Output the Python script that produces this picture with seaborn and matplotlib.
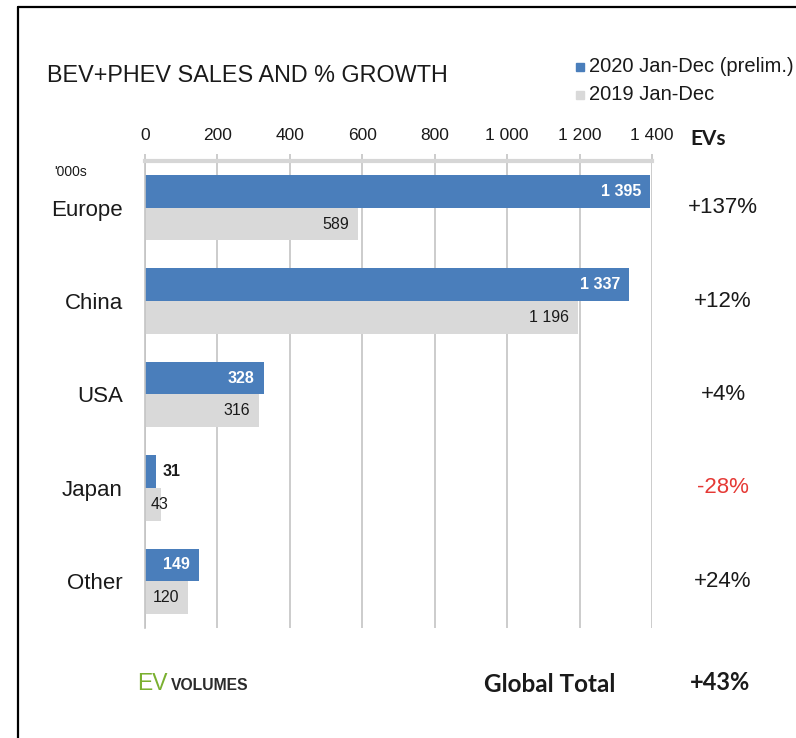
import numpy as np
import pandas as pd
import matplotlib
matplotlib.use("Agg")
import matplotlib.pyplot as plt
from matplotlib.lines import Line2D
from matplotlib.patches import Rectangle
from matplotlib.transforms import blended_transform_factory
import seaborn as sns

# ---- data ('000s of EVs) ----
regions = ["Europe", "China", "USA", "Japan", "Other"]
sales_2020 = [1395, 1337, 328, 31, 149]
sales_2019 = [589, 1196, 316, 43, 120]
growth = ["+137%", "+12%", "+4%", "-28%", "+24%"]
series_names = ["2020 Jan-Dec (prelim.)", "2019 Jan-Dec"]
x_ticks = [0, 200, 400, 600, 800, 1000, 1200, 1400]
global_growth = "+43%"

BLUE = "#4A7EBB"
GREY = "#D9D9D9"
GRID = "#C4C4C4"
TXT = "#1a1a1a"

df = pd.DataFrame({
    "region": regions * 2,
    "series": [series_names[0]] * len(regions) + [series_names[1]] * len(regions),
    "sales": sales_2020 + sales_2019,
})

sns.set_style("white")
plt.rcParams["font.family"] = ["Liberation Sans", "DejaVu Sans"]
HUMAN = ["Lato", "DejaVu Sans"]

W, H = 796, 738
fig = plt.figure(figsize=(W / 100, H / 100), dpi=100)


def fx(px):
    return px / W


def fy(py):
    return 1 - py / H


ax = fig.add_axes([fx(145), fy(628), fx(652) - fx(145), fy(161) - fy(628)])
sns.barplot(data=df, y="region", x="sales", hue="series",
            order=regions, hue_order=series_names,
            palette=[BLUE, GREY], orient="h", width=0.7, gap=0,
            saturation=1, edgecolor="none", legend=False, ax=ax)

ax.set_xlim(0, 1400)
ax.set_ylim(len(regions) - 0.5, -0.5)
ax.set_axisbelow(True)
ax.grid(axis="x", color=GRID, lw=1.2)
ax.grid(axis="y", visible=False)
ax.set_xlabel("")
ax.set_ylabel("")

# value axis on top
ax.xaxis.tick_top()
ax.set_xticks(x_ticks)
ax.set_xticklabels([f"{v:,}".replace(",", " ") for v in x_ticks])
ax.tick_params(axis="x", which="major", length=5, color=GRID, width=1.2,
               labelsize=12.5, labelcolor=TXT, pad=8)

# category axis
ax.set_yticks(range(len(regions)))
ax.set_yticklabels(regions)
ax.tick_params(axis="y", which="major", length=0, labelsize=16,
               labelcolor=TXT, pad=16)
ax.set_yticks(np.arange(-0.5, len(regions), 1.0), minor=True)
ax.tick_params(axis="y", which="minor", length=5, color=GRID, width=1.2)

for side in ("right", "bottom"):
    ax.spines[side].set_visible(False)
ax.spines["top"].set_color("#D6D6D6")
ax.spines["top"].set_linewidth(3)
ax.spines["left"].set_color(GRID)
ax.spines["left"].set_linewidth(1.2)


def fmt(v):
    return f"{v:,}".replace(",", " ")


# value labels on the bars
pad = 9
for bars, vals, is_new in ((ax.containers[0], sales_2020, True),
                           (ax.containers[1], sales_2019, False)):
    for bar, v in zip(bars, vals):
        y = bar.get_y() + bar.get_height() / 2
        if is_new:
            if v < 100:
                ax.annotate(fmt(v), (v, y), xytext=(6, 0), textcoords="offset pixels",
                            ha="left", va="center", fontsize=11.5, weight="bold", color=TXT)
            else:
                ax.annotate(fmt(v), (v, y), xytext=(-pad, 0), textcoords="offset pixels",
                            ha="right", va="center", fontsize=11.5, weight="bold", color="white")
        else:
            if v < 100:
                ax.annotate(fmt(v), (0, y), xytext=(6, 0), textcoords="offset pixels",
                            ha="left", va="center", fontsize=11.5, color=TXT)
            else:
                ax.annotate(fmt(v), (v, y), xytext=(-pad, 0), textcoords="offset pixels",
                            ha="right", va="center", fontsize=11.5, color=TXT)

# growth column on the right
tr = blended_transform_factory(fig.transFigure, ax.transData)
for i, g in enumerate(growth):
    ax.text(fx(723), i, g, transform=tr, ha="center", va="center", fontsize=16,
            color="#E53935" if g.startswith("-") else TXT, clip_on=False)

# title, units and legend
fig.text(fx(47), fy(76), "BEV+PHEV SALES AND % GROWTH", ha="left", va="center",
         fontsize=16.8, color=TXT)
fig.text(fx(71), fy(172), "'000s", ha="center", va="center", fontsize=10, color=TXT)
fig.text(fx(690), fy(139), "EVs", ha="left", va="center", fontsize=15,
         weight="bold", color=TXT, family=HUMAN)

for name, col, yy in ((series_names[0], BLUE, 67), (series_names[1], GREY, 95)):
    fig.patches.append(Rectangle((fx(576), fy(yy + 4)), fx(8), 8 / H, color=col,
                                 transform=fig.transFigure, figure=fig))
    fig.text(fx(589), fy(yy), name, ha="left", va="center", fontsize=14.5, color=TXT)

# footer
fig.text(fx(137), fy(684), "EV", ha="left", va="center", fontsize=16.5,
         color="#7AB030")
fig.text(fx(171), fy(686), "VOLUMES", ha="left", va="center", fontsize=11.3,
         weight="bold", color="#2b2b2b")
fig.text(fx(484), fy(685), "Global Total", ha="left", va="center", fontsize=17.5,
         weight="bold", color=TXT, family=HUMAN)
fig.text(fx(690), fy(683), global_growth, ha="left", va="center", fontsize=17,
         weight="bold", color=TXT, family=HUMAN)

# outer frame
fig.add_artist(Line2D([fx(18), fx(18)], [0, fy(7)], color="black", lw=1.6,
                      transform=fig.transFigure))
fig.add_artist(Line2D([fx(18), 1], [fy(7), fy(7)], color="black", lw=1.6,
                      transform=fig.transFigure))

fig.savefig("out.png", dpi=100, facecolor="white")
